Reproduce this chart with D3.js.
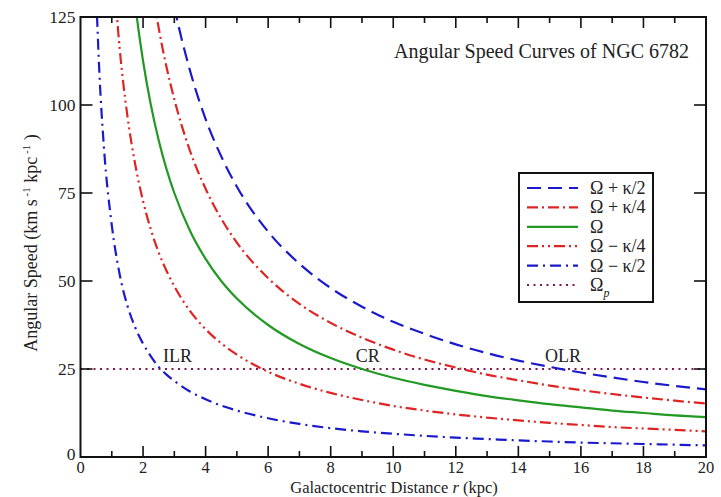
<!DOCTYPE html>
<html><head><meta charset="utf-8">
<script src="https://cdn.jsdelivr.net/npm/d3@7"></script>
<style>
html,body{margin:0;padding:0;background:#fff;}
svg text{font-family:"Liberation Serif","Times New Roman",serif;fill:#222;}
</style></head>
<body>
<svg id="chart" width="721" height="497"></svg>
<script>
// ---- data ----
const radius = [0.5,0.6,0.75,1,1.25,1.5,1.75,2,2.25,2.5,2.75,3,3.5,4,4.5,5,6,7,8,9,10,11,12,13,14,15,16,17,18,19,20];
const omegaPlusHalfKappa = [null,null,null,null,null,null,null,null,null,null,139.7,128.0,109.8,96.0,85.4,76.8,64.0,54.9,48.0,42.7,38.4,35.0,32.0,29.5,27.4,25.6,24.0,22.6,21.3,20.2,19.2];
const omegaPlusQuarterKappa = [null,null,null,null,null,null,null,null,135.4,121.9,110.8,101.6,87.0,76.2,67.7,60.9,50.8,43.5,38.1,33.9,30.5,27.7,25.4,23.4,21.8,20.3,19.0,17.9,16.9,16.0,15.2];
const omega = [null,null,null,null,null,150,128.6,112.5,100,90,81.8,75,64.3,56.3,50,45,37.5,32.1,28.1,25,22.5,20.5,18.8,17.3,16.1,15,14.1,13.2,12.5,11.8,11.3];
const omegaMinusQuarterKappa = [null,null,null,145.4,116.3,96.9,83.1,72.7,64.6,58.1,52.9,48.5,41.5,36.3,32.3,29.1,24.2,20.8,18.2,16.2,14.5,13.2,12.1,11.2,10.4,9.7,9.1,8.5,8.1,7.7,7.3];
const omegaMinusHalfKappa = [131.9,109.9,87.9,65.9,52.0,43.0,36.8,32.2,28.6,25.6,23.4,21.6,18.6,16.4,14.6,13.2,11.0,9.4,8.2,7.3,6.6,6.0,5.5,5.1,4.7,4.4,4.1,3.9,3.7,3.5,3.3];
const patternSpeed = 25;
const seriesLabels = ["Ω + κ/2","Ω + κ/4","Ω","Ω − κ/4","Ω − κ/2","Ω"];
const resonances = [{name:"ILR", r:2.64}, {name:"CR", r:8.8}, {name:"OLR", r:14.85}];
const xTicks = [0,2,4,6,8,10,12,14,16,18,20];
const yTicks = [0,25,50,75,100,125];

// ---- layout ----
const svg = d3.select("#chart");
const L = 80.5, R = 706, T = 17, B = 457;
const x = d3.scaleLinear().domain([0,20]).range([L,R]);
const y = d3.scaleLinear().domain([0,125]).range([B,T]);

const series = [
  {vals: omegaPlusHalfKappa, color:"#1a1acc", dash:"14,7"},
  {vals: omegaPlusQuarterKappa, color:"#e02424", dash:"11,4,2,4"},
  {vals: omega, color:"#229922", dash:null},
  {vals: omegaMinusQuarterKappa, color:"#e02424", dash:"11,4,2,4,2,4"},
  {vals: omegaMinusHalfKappa, color:"#1a1acc", dash:"11,5,2,5"},
  {vals: null, color:"#85184a", dash:"2,4.5"}
];

svg.append("defs").append("clipPath").attr("id","clip")
  .append("rect").attr("x",L).attr("y",T).attr("width",R-L).attr("height",B-T);

const line = d3.line()
  .defined(d => d[1] != null)
  .x(d => x(d[0])).y(d => y(d[1]))
  .curve(d3.curveMonotoneX);

const plot = svg.append("g").attr("clip-path","url(#clip)");

// pattern speed line
plot.append("path")
  .attr("d", line([[0,patternSpeed],[20,patternSpeed]]))
  .attr("fill","none").attr("stroke",series[5].color).attr("stroke-width",2)
  .attr("stroke-dasharray",series[5].dash);

series.slice(0,5).forEach(s => {
  plot.append("path")
    .attr("d", line(radius.map((r,i)=>[r,s.vals[i]])))
    .attr("fill","none").attr("stroke",s.color).attr("stroke-width",2.2)
    .attr("stroke-dasharray",s.dash);
});

// frame
svg.append("rect").attr("x",L).attr("y",T).attr("width",R-L).attr("height",B-T)
  .attr("fill","none").attr("stroke","#111").attr("stroke-width",2);

// ticks
const minorX = d3.range(1,20,2);
const tg = svg.append("g").attr("stroke","#111").attr("stroke-width",1.6);
xTicks.slice(1,-1).forEach(v => {
  tg.append("line").attr("x1",x(v)).attr("x2",x(v)).attr("y1",B).attr("y2",B-11);
  tg.append("line").attr("x1",x(v)).attr("x2",x(v)).attr("y1",T).attr("y2",T+11);
});
minorX.forEach(v => {
  tg.append("line").attr("x1",x(v)).attr("x2",x(v)).attr("y1",B).attr("y2",B-6);
  tg.append("line").attr("x1",x(v)).attr("x2",x(v)).attr("y1",T).attr("y2",T+6);
});
yTicks.slice(1,-1).forEach(v => {
  tg.append("line").attr("x1",L).attr("x2",L+12).attr("y1",y(v)).attr("y2",y(v));
  tg.append("line").attr("x1",R).attr("x2",R-12).attr("y1",y(v)).attr("y2",y(v));
});

// tick labels
svg.append("g").selectAll("text").data(xTicks).join("text")
  .attr("x",d=>x(d)).attr("y",473).attr("text-anchor","middle")
  .attr("font-size",16.5).text(d=>d);
svg.append("g").selectAll("text").data(yTicks).join("text")
  .attr("x",L-5).attr("y",d=>y(d)+ (d===0?3:6)).attr("text-anchor","end")
  .attr("font-size",17.5).text(d=>d);

// axis titles
const xt = svg.append("text").attr("x",394).attr("y",493).attr("text-anchor","middle").attr("font-size",16.5);
xt.append("tspan").text("Galactocentric Distance ");
xt.append("tspan").attr("font-style","italic").text("r");
xt.append("tspan").text(" (kpc)");

const yt = svg.append("text").attr("transform","translate(37,243) rotate(-90)")
  .attr("text-anchor","middle").attr("font-size",18);
yt.append("tspan").text("Angular Speed (km s");
yt.append("tspan").attr("dy",-7).attr("font-size",11).text(" -1");
yt.append("tspan").attr("dy",7).text(" kpc");
yt.append("tspan").attr("dy",-7).attr("font-size",11).text(" -1");
yt.append("tspan").attr("dy",7).text(" )");

// title
svg.append("text").attr("x",689).attr("y",58).attr("text-anchor","end")
  .attr("font-size",20).text("Angular Speed Curves of NGC 6782");

// resonance labels
svg.append("g").selectAll("text").data(resonances).join("text")
  .attr("x",d=>x(d.r)).attr("y",y(patternSpeed)-7)
  .attr("font-size",18).text(d=>d.name);

// legend
const lg = svg.append("g");
lg.append("rect").attr("x",519).attr("y",173).attr("width",134).attr("height",129)
  .attr("fill","#fff").attr("stroke","#111").attr("stroke-width",2);
series.forEach((s,i) => {
  const yy = 188 + i*19.4;
  lg.append("line").attr("x1",527).attr("x2",578).attr("y1",yy).attr("y2",yy)
    .attr("stroke",s.color).attr("stroke-width",2.2).attr("stroke-dasharray",s.dash);
  const t = lg.append("text").attr("x",590).attr("y",yy+6).attr("font-size",18);
  t.append("tspan").text(seriesLabels[i]);
  if (i===5) t.append("tspan").attr("dy",6).attr("font-size",12).attr("font-style","italic").text("p");
});
</script>
</body></html>
